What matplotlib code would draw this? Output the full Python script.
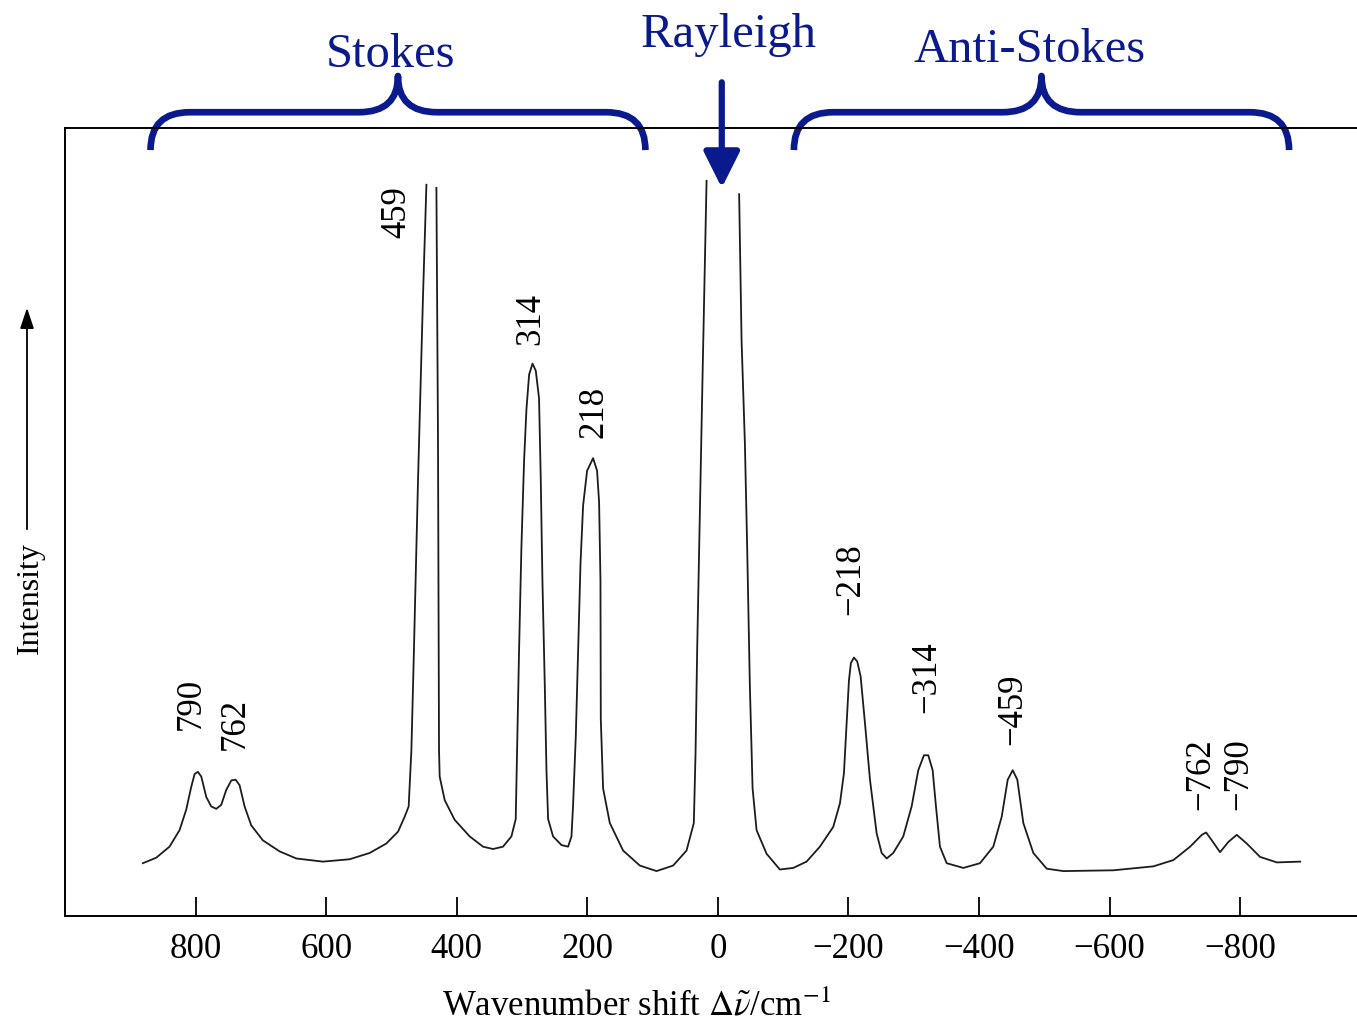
import numpy as np
import matplotlib
matplotlib.use('Agg')
import matplotlib.pyplot as plt
from matplotlib.path import Path
from matplotlib.patches import PathPatch

plt.rcParams['font.family'] = ['Liberation Serif', 'DejaVu Serif']
plt.rcParams['mathtext.fontset'] = 'stix'

nan = np.nan

# ---- data (wavenumber shift / cm^-1, relative intensity) ----
# NaN marks where the strong peaks run off-scale (lines are cut in the original)
shift = [880.8, 860.2, 839.9, 824.5, 814.3, 806.6, 801.5, 796.5, 791.3, 783.6,
         776.0, 768.3, 760.7, 753.0, 745.3, 738.7, 732.6, 724.9, 714.7, 696.9,
         671.3, 645.7, 605.0, 564.0, 533.3, 507.8, 489.9, 479.7, 473.6, 471.0,
         469.4, 465.9, 459.3, 451.7, 446.4, nan,
         431.1, 428.7, 427.1, 426.1, 418.4, 403.1, 380.1, 359.7, 344.4, 329.1,
         316.2, 309.6, 307.6, 304.5, 300.9, 296.8, 293.2, 289.1, 283.9, 278.9,
         273.9, 271.3, 268.7, 265.1, 262.5, 260.0, 252.4, 239.5, 229.4, 224.2,
         221.8, 217.6, 214.1, 210.4, 206.4, 200.3, 191.1, 185.0, 181.9, 179.8,
         179.3, 175.8, 165.5, 145.1, 119.5, 93.9, 68.5, 48.0, 36.8, 34.2,
         31.7, 27.6, 23.4, 17.3, nan,
         -32.6, -36.3, -41.4, -44.9, -49.0, -53.2, -59.3, -74.6, -95.0, -115.4,
         -135.9, -156.3, -176.7, -187.0, -193.1, -197.2, -200.8, -203.8, -208.4, -213.5,
         -218.7, -225.3, -233.0, -243.2, -250.9, -258.6, -268.7, -284.0, -296.8, -307.0,
         -315.7, -322.3, -329.0, -334.1, -340.2, -350.5, -376.0, -401.5, -421.9, -434.8,
         -444.0, -451.6, -458.7, -467.9, -483.2, -503.8, -529.2, -605.8, -667.1, -697.8,
         -723.4, -741.3, -747.9, -756.6, -769.2, -782.0, -794.8, -810.1, -830.5, -856.3,
         -892.0]
intensity = [6.7, 7.4, 8.8, 10.9, 13.5, 16.4, 18.0, 18.3, 17.7, 15.1,
             13.9, 13.6, 14.1, 16.0, 17.2, 17.3, 16.6, 13.9, 11.5, 9.6,
             8.2, 7.3, 6.9, 7.2, 8.0, 9.2, 10.7, 12.6, 13.9, 18.5,
             21.1, 32.5, 55.2, 78.5, 92.8, nan,
             92.4, 61.0, 21.1, 17.7, 14.7, 12.2, 10.1, 8.8, 8.5, 8.8,
             10.1, 12.3, 20.6, 33.7, 46.8, 57.8, 64.3, 68.7, 70.1, 69.2,
             65.7, 55.6, 42.5, 29.3, 18.4, 12.3, 10.1, 9.0, 8.8, 10.1,
             14.0, 22.8, 33.7, 44.7, 52.1, 56.5, 58.1, 56.5, 52.5, 42.5,
             25.0, 16.2, 11.8, 8.3, 6.4, 5.7, 6.4, 8.3, 11.8, 20.6,
             33.7, 51.2, 68.7, 93.3, nan,
             91.6, 73.1, 60.0, 46.8, 29.3, 16.2, 10.9, 7.9, 5.9, 6.1,
             6.9, 8.8, 11.3, 14.3, 18.1, 24.5, 29.9, 32.1, 32.8, 32.3,
             30.4, 24.5, 17.3, 10.5, 8.0, 7.3, 8.0, 10.1, 13.9, 18.5,
             20.4, 20.4, 18.5, 13.9, 8.8, 6.7, 6.1, 6.7, 8.8, 12.6,
             17.3, 18.5, 17.3, 11.8, 8.0, 6.0, 5.7, 5.8, 6.3, 7.1,
             8.8, 10.3, 10.6, 9.6, 8.1, 9.4, 10.3, 9.2, 7.5, 6.8,
             6.9]

peak_labels = ['790', '762', '459', '314', '218',
               '\u2212218', '\u2212314', '\u2212459', '\u2212762', '\u2212790']
tick_values = [800, 600, 400, 200, 0, -200, -400, -600, -800]
region_names = ['Stokes', 'Rayleigh', 'Anti-Stokes']

# ---- layout (not data) ----
label_pos_x = [806, 739, 492, 287, 190, -204, -320, -452, -739, -798]
label_pos_y = [23.6, 21.1, 86.0, 72.5, 60.7, 38.2, 25.8, 21.7, 13.5, 13.5]
navy = '#0a1a8c'
W, H = 1357, 1032

fig = plt.figure(figsize=(W / 100, H / 100), dpi=100)
ax = fig.add_axes([65 / W, 116 / H, 1 - 65 / W, 788 / H])
ax.plot(shift, intensity, color='#1c1c1c', lw=1.3, solid_joinstyle='round')
ax.set_xlim(1000, -979)
ax.set_ylim(0, 100)

ax.set_xticks(tick_values)
ax.tick_params(axis='x', direction='in', length=14, width=1.3, labelsize=25, pad=12)
ax.set_yticks([])
ax.spines['right'].set_visible(False)
for s in ('left', 'top', 'bottom'):
    ax.spines[s].set_linewidth(1.4)

for lab, lx, ly in zip(peak_labels, label_pos_x, label_pos_y):
    ax.text(lx, ly, lab, rotation=90, ha='center', va='bottom', fontsize=25)

# axis labels
fig.text(636 / W, 1 - 1016 / H, r'Wavenumber shift $\Delta\tilde{\nu}$/cm$^{-1}$',
         ha='center', va='baseline', fontsize=25)
fig.text(30 / W, 1 - 598 / H, 'Intensity', rotation=90, ha='center', va='center',
         fontsize=23)
ax.annotate('', xy=(27 / W, 1 - 305 / H), xytext=(27 / W, 1 - 532 / H),
            xycoords='figure fraction', textcoords='figure fraction',
            arrowprops=dict(arrowstyle='-|>,head_length=0.9,head_width=0.3',
                            color='black', lw=1.3, mutation_scale=14))


def brace(x_left, x_right, y_end, y_arm, y_tip, r):
    d = -1 if x_right < x_left else 1
    step = d * r
    xm = (x_left + x_right) / 2
    verts = [(x_left, y_end), (x_left, y_arm), (x_left + step, y_arm),
             (xm - step, y_arm), (xm, y_arm), (xm, y_tip),
             (xm, y_arm), (xm + step, y_arm),
             (x_right - step, y_arm), (x_right, y_arm), (x_right, y_end)]
    codes = [Path.MOVETO, Path.CURVE3, Path.CURVE3, Path.LINETO, Path.CURVE3, Path.CURVE3,
             Path.CURVE3, Path.CURVE3, Path.LINETO, Path.CURVE3, Path.CURVE3]
    patch = PathPatch(Path(verts, codes), facecolor='none', edgecolor=navy, lw=4.8,
                      capstyle='butt', joinstyle='round', clip_on=False)
    ax.add_patch(patch)


brace(869, 111, 97.2, 102.0, 106.6, 60)
brace(-116.5, -875, 97.2, 102.0, 106.6, 60)

ax.text(502, 107.7, region_names[0], ha='center', va='baseline', fontsize=35, color=navy)
ax.text(-17, 110.3, region_names[1], ha='center', va='baseline', fontsize=35, color=navy)
ax.text(-477, 108.4, region_names[2], ha='center', va='baseline', fontsize=35, color=navy)

ax.annotate('', xy=(-6, 92.4), xytext=(-6, 105.8), annotation_clip=False,
            arrowprops=dict(arrowstyle='-|>,head_length=1.0,head_width=0.5',
                            color=navy, lw=4.5, mutation_scale=22, shrinkA=0, shrinkB=0))

fig.savefig('out.png', dpi=100)
